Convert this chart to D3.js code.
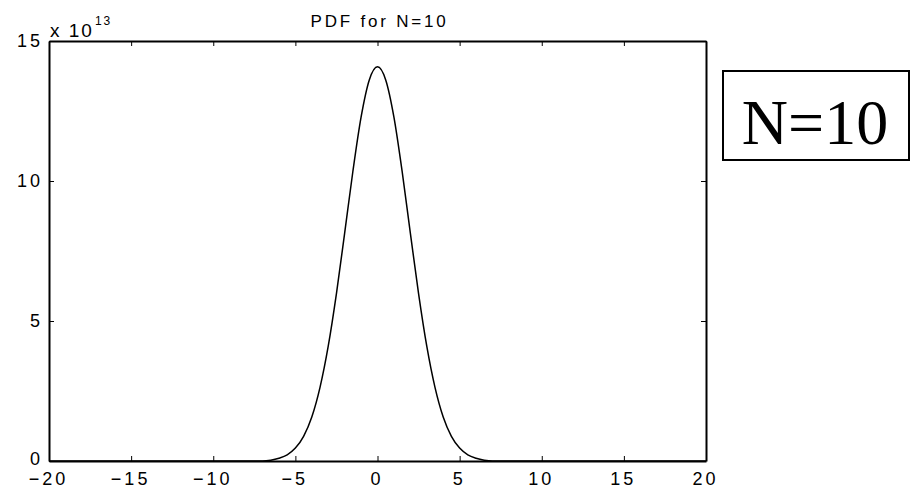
<!DOCTYPE html>
<html>
<head>
<meta charset="utf-8">
<script src="https://cdn.jsdelivr.net/npm/d3@7"></script>
<style>
  body { margin: 0; background: #fff; }
  text { font-family: "Liberation Sans", Arial, sans-serif; fill: #000; }
</style>
</head>
<body>
<div id="chart"></div>
<script>
// values (y in units of 1e13)
const xVals = [-20, -7, -6.5, -6, -5.5, -5, -4.5, -4, -3.5, -3, -2.5, -2, -1.5, -1, -0.5, 0,
  0.5, 1, 1.5, 2, 2.5, 3, 3.5, 4, 4.5, 5, 5.5, 6, 6.5, 7, 20];
const yVals = [0, 0, 0.03, 0.10, 0.22, 0.46, 0.88, 1.57, 2.63, 4.10, 5.98, 8.14, 10.34, 12.28, 13.61, 14.08,
  13.61, 12.28, 10.34, 8.14, 5.98, 4.10, 2.63, 1.57, 0.88, 0.46, 0.22, 0.10, 0.03, 0, 0];
const xTicks = [-20, -15, -10, -5, 0, 5, 10, 15, 20];
const yTicks = [0, 5, 10, 15];

const W = 919, H = 489;
const margin = { left: 49, right: 213, top: 41, bottom: 28 };

const svg = d3.select("#chart").append("svg")
  .attr("width", W).attr("height", H);

const x = d3.scaleLinear().domain([-20, 20]).range([margin.left, W - margin.right]);
const y = d3.scaleLinear().domain([0, 15]).range([H - margin.bottom, margin.top]);

// title
svg.append("text")
  .attr("x", (x(-20) + x(20)) / 2 + 2)
  .attr("y", 27)
  .attr("text-anchor", "middle")
  .style("font-size", "17px")
  .style("letter-spacing", "2.8px")
  .text("PDF for N=10");

// curve
const line = d3.line()
  .x((d, i) => x(xVals[i]))
  .y(d => y(d))
  .curve(d3.curveMonotoneX);

svg.append("path")
  .datum(yVals)
  .attr("fill", "none")
  .attr("stroke", "#000")
  .attr("stroke-width", 1.5)
  .attr("d", line);

// axes (ticks pointing inward, box all round)
const fontAx = g => g.selectAll("text")
  .style("font-size", "18px")
  .style("letter-spacing", "3px")
  .style("font-family", "'Liberation Sans', Arial, sans-serif")
  .attr("fill", "#000");

const axB = svg.append("g")
  .attr("transform", `translate(0,${y(0)})`)
  .call(d3.axisBottom(x).tickValues(xTicks).tickSizeInner(-5).tickSizeOuter(0).tickPadding(11));
axB.call(fontAx);
axB.selectAll("text").attr("dx", "-1px");

const axT = svg.append("g")
  .attr("transform", `translate(0,${y(15)})`)
  .call(d3.axisTop(x).tickValues(xTicks).tickSizeInner(-5).tickSizeOuter(0).tickFormat(""));

const axL = svg.append("g")
  .attr("transform", `translate(${x(-20)},0)`)
  .call(d3.axisLeft(y).tickValues(yTicks).tickSizeInner(-5).tickSizeOuter(0).tickPadding(6));
axL.call(fontAx);
axL.selectAll(".tick").filter(d => d === 0).select("text").attr("y", -2);

const axR = svg.append("g")
  .attr("transform", `translate(${x(20)},0)`)
  .call(d3.axisRight(y).tickValues(yTicks).tickSizeInner(-5).tickSizeOuter(0).tickFormat(""));

svg.selectAll(".domain").attr("stroke", "#000").attr("stroke-width", 2);
svg.selectAll(".tick line").attr("stroke", "#000").attr("stroke-width", 1);

// exponent label
const expo = svg.append("text")
  .attr("x", 50).attr("y", 37)
  .style("font-size", "19px")
  .style("letter-spacing", "2px");
expo.append("tspan").text("x 10");
expo.append("tspan").attr("dy", -12).attr("dx", 1).style("font-size", "12px").text("13");

// boxed N=10 annotation
svg.append("rect")
  .attr("x", 723).attr("y", 71)
  .attr("width", 186).attr("height", 89)
  .attr("fill", "#fff")
  .attr("stroke", "#000")
  .attr("stroke-width", 2);

svg.append("text")
  .attr("x", 815).attr("y", 144)
  .attr("text-anchor", "middle")
  .style("font-family", "'Liberation Serif', 'Times New Roman', serif")
  .style("font-size", "64px")
  .text("N=10");
</script>
</body>
</html>
